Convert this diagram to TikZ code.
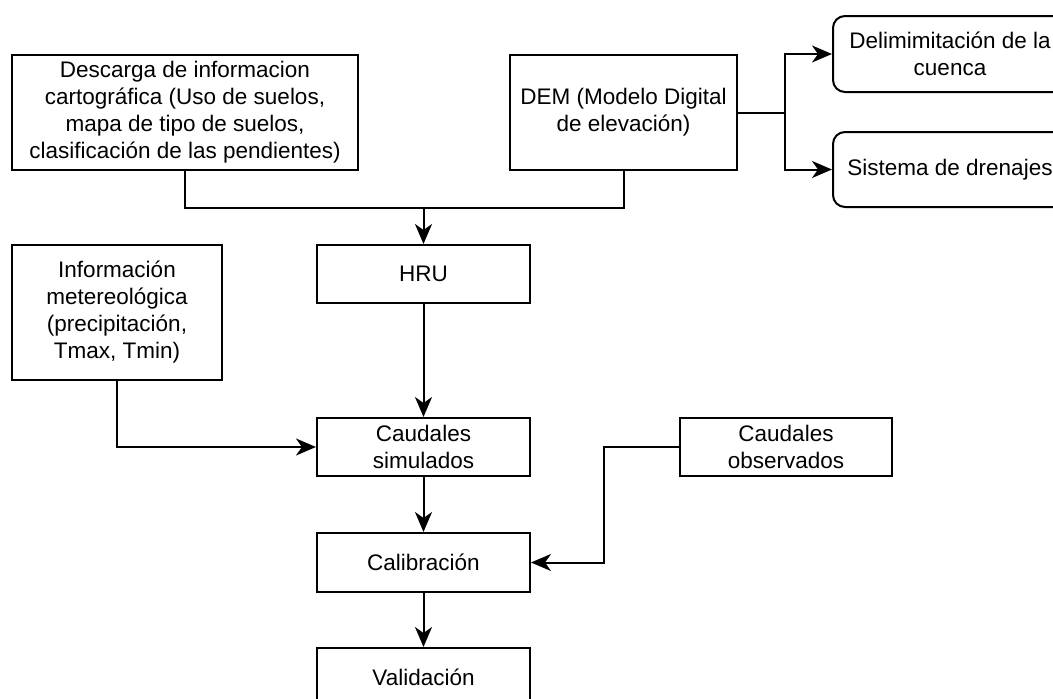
\documentclass[tikz,border=0pt]{standalone}
\usepackage{fontspec}
\setmainfont{Liberation Sans}
\usetikzlibrary{arrows.meta}

\tikzset{
  box/.style={draw, line width=2pt, rectangle, align=center, inner sep=0pt,
              font=\fontsize{22.5}{27}\selectfont},
  roundbox/.style={box, rounded corners=12pt},
  link/.style={line width=2pt},
  arrowlink/.style={link, -{Stealth[length=20pt,width=17pt,inset=6pt]}}
}

\begin{document}
\begin{tikzpicture}[x=1pt,y=-1pt]
  \useasboundingbox (0,0) rectangle (1053,699);
  \clip (0,0) rectangle (1053,699);
  \fill[white] (0,0) rectangle (1053,699);

  % input boxes
  \node[box, minimum width=346pt, minimum height=115pt] (desc) at (185,112.5)
    {Descarga de informacion\\cartográfica (Uso de suelos,\\mapa de tipo de suelos,\\clasificación de las pendientes)};
  \node[box, minimum width=227pt, minimum height=115pt] (dem) at (623.5,112.5)
    {DEM (Modelo Digital\\de elevación)};
  \node[roundbox, minimum width=234pt, minimum height=76pt] (delim) at (950,54)
    {Delimimitación de la\\cuenca};
  \node[roundbox, minimum width=234pt, minimum height=75pt] (sist) at (950,169.5)
    {Sistema de drenajes};
  \node[box, minimum width=210pt, minimum height=135pt] (info) at (117,312.5)
    {Información\\metereológica\\(precipitación,\\Tmax, Tmin)};

  % main column
  \node[box, minimum width=213pt, minimum height=58pt] (hru) at (423.5,274) {HRU};
  \node[box, minimum width=213pt, minimum height=58pt] (csim) at (423.5,447)
    {Caudales\\simulados};
  \node[box, minimum width=212pt, minimum height=58pt] (cobs) at (786,447)
    {Caudales\\observados};
  \node[box, minimum width=213pt, minimum height=59pt] (cal) at (423.5,562.5) {Calibración};
  \node[box, minimum width=213pt, minimum height=58pt] (val) at (423.5,677) {Validación};

  % junction points
  \coordinate (j) at (423.5,208);
  \coordinate (br) at (785,112.5);
  \coordinate (ob) at (604,447);

  % connectors
  \draw[link] (desc.south) |- (j);
  \draw[link] (dem.south) |- (j);
  \draw[arrowlink] (j) -- (hru.north);
  \draw[link] (dem.east) -- (br);
  \draw[arrowlink] (br) |- (delim.west);
  \draw[arrowlink] (br) |- (sist.west);
  \draw[arrowlink] (hru.south) -- (csim.north);
  \draw[arrowlink] (info.south) |- (csim.west);
  \draw[arrowlink] (csim.south) -- (cal.north);
  \draw[arrowlink] (cobs.west) -- (ob) |- (cal.east);
  \draw[arrowlink] (cal.south) -- (val.north);
\end{tikzpicture}
\end{document}
